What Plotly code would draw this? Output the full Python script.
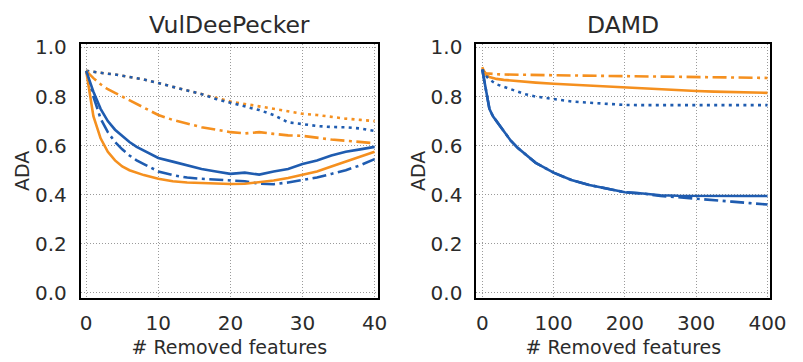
import plotly.graph_objects as go

BLUE = "#1f5cb0"
ORANGE = "#f5901f"

# VulDeePecker: ADA vs number of removed features
x_vdp = [0, 1, 2, 3, 4, 5, 6, 7, 8, 10, 12, 14, 16, 18, 20, 22, 24, 26, 28, 30, 32, 34, 36, 38, 40]
vdp_orange_dot = [0.905, 0.90, 0.897, 0.893, 0.89, 0.885, 0.88, 0.875, 0.87, 0.855, 0.84, 0.825, 0.81,
                  0.795, 0.78, 0.77, 0.76, 0.75, 0.74, 0.73, 0.725, 0.717, 0.71, 0.705, 0.70]
vdp_blue_dot = [0.905, 0.90, 0.897, 0.893, 0.89, 0.885, 0.88, 0.875, 0.87, 0.855, 0.84, 0.825, 0.81,
                0.79, 0.775, 0.76, 0.745, 0.725, 0.695, 0.688, 0.68, 0.676, 0.675, 0.67, 0.66]
vdp_orange_dashdot = [0.905, 0.875, 0.85, 0.83, 0.815, 0.80, 0.785, 0.77, 0.755, 0.725, 0.705, 0.69, 0.675,
                      0.665, 0.655, 0.65, 0.655, 0.648, 0.642, 0.64, 0.632, 0.625, 0.62, 0.615, 0.61]
vdp_blue_solid = [0.905, 0.82, 0.75, 0.70, 0.665, 0.64, 0.615, 0.595, 0.58, 0.55, 0.535, 0.52, 0.505,
                  0.495, 0.485, 0.49, 0.482, 0.495, 0.505, 0.525, 0.54, 0.56, 0.575, 0.585, 0.595]
vdp_orange_solid = [0.905, 0.72, 0.63, 0.575, 0.54, 0.515, 0.50, 0.49, 0.48, 0.465, 0.455, 0.45, 0.447,
                    0.445, 0.444, 0.445, 0.45, 0.458, 0.468, 0.48, 0.495, 0.515, 0.535, 0.555, 0.575]
vdp_blue_dashdot = [0.905, 0.80, 0.71, 0.655, 0.615, 0.585, 0.56, 0.54, 0.525, 0.495, 0.48, 0.47, 0.465,
                    0.462, 0.46, 0.455, 0.445, 0.443, 0.45, 0.46, 0.47, 0.485, 0.50, 0.52, 0.545]

# DAMD: ADA vs number of removed features
x_damd = [0, 2, 5, 10, 15, 20, 30, 40, 50, 60, 75, 100, 125, 150, 175, 200, 225, 250, 275, 300, 325, 350, 375, 400]
damd_orange_dashdot = [0.92, 0.905, 0.895, 0.893, 0.892, 0.891, 0.89, 0.89, 0.889, 0.888, 0.888, 0.887,
                       0.886, 0.885, 0.884, 0.883, 0.882, 0.881, 0.88, 0.88, 0.879, 0.878, 0.877, 0.876]
damd_orange_solid = [0.915, 0.905, 0.89, 0.88, 0.875, 0.872, 0.868, 0.865, 0.862, 0.86, 0.857, 0.852,
                     0.848, 0.844, 0.84, 0.836, 0.832, 0.829, 0.826, 0.823, 0.82, 0.818, 0.816, 0.815]
damd_blue_dot = [0.91, 0.90, 0.885, 0.87, 0.86, 0.85, 0.84, 0.83, 0.82, 0.81, 0.80, 0.79,
                 0.78, 0.775, 0.77, 0.766, 0.765, 0.765, 0.765, 0.765, 0.765, 0.765, 0.765, 0.765]
damd_blue_solid = [0.91, 0.88, 0.82, 0.75, 0.72, 0.70, 0.66, 0.62, 0.59, 0.565, 0.53, 0.49,
                   0.46, 0.44, 0.425, 0.41, 0.405, 0.398, 0.396, 0.395, 0.395, 0.395, 0.395, 0.395]
damd_blue_dashdot = [0.91, 0.88, 0.82, 0.75, 0.72, 0.70, 0.66, 0.62, 0.59, 0.565, 0.53, 0.49,
                     0.46, 0.44, 0.425, 0.41, 0.405, 0.395, 0.39, 0.385, 0.378, 0.372, 0.366, 0.36]

y_ticks = [0.0, 0.2, 0.4, 0.6, 0.8, 1.0]
y_ticktext = ["0.0", "0.2", "0.4", "0.6", "0.8", "1.0"]
x_ticks_vdp = [0, 10, 20, 30, 40]
x_ticks_damd = [0, 100, 200, 300, 400]

FONT = "DejaVu Sans"
TEXT = "#2b2b2b"
W = 2.6
DASHES = {"solid": "solid", "dot": "3px,4.3px", "dashdot": "14px,4.5px,3px,4.5px"}

fig = go.Figure()


def add(x, y, color, dash, axis):
    fig.add_trace(go.Scatter(x=x, y=y, mode="lines", xaxis="x" + axis, yaxis="y" + axis,
                             line=dict(color=color, width=W, dash=DASHES[dash]), showlegend=False,
                             hoverinfo="skip"))


add(x_vdp, vdp_orange_dot, ORANGE, "dot", "")
add(x_vdp, vdp_blue_dot, BLUE, "dot", "")
add(x_vdp, vdp_orange_dashdot, ORANGE, "dashdot", "")
add(x_vdp, vdp_blue_dashdot, BLUE, "dashdot", "")
add(x_vdp, vdp_orange_solid, ORANGE, "solid", "")
add(x_vdp, vdp_blue_solid, BLUE, "solid", "")

add(x_damd, damd_orange_dashdot, ORANGE, "dashdot", "2")
add(x_damd, damd_orange_solid, ORANGE, "solid", "2")
add(x_damd, damd_blue_dot, BLUE, "dot", "2")
add(x_damd, damd_blue_dashdot, BLUE, "dashdot", "2")
add(x_damd, damd_blue_solid, BLUE, "solid", "2")

W_PX, H_PX = 803, 362
dom1 = [81.5 / W_PX, 385 / W_PX]
dom2 = [485.7 / W_PX, 786 / W_PX]
ydom = [(H_PX - 302) / H_PX, (H_PX - 37) / H_PX]

common_axis = dict(showline=True, linecolor="black", linewidth=2, mirror=True,
                   showgrid=True, gridcolor="#9a9a9a", gridwidth=1, griddash="1px,2px",
                   zeroline=False, ticks="", tickfont=dict(family=FONT, size=20, color=TEXT),
                   title_font=dict(family=FONT, size=19, color=TEXT))

fig.update_layout(
    width=W_PX, height=H_PX,
    margin=dict(l=0, r=0, t=0, b=0),
    paper_bgcolor="white", plot_bgcolor="white",
    xaxis=dict(domain=dom1, range=[-0.75, 40.45], tickvals=x_ticks_vdp, anchor="y",
               title=dict(text="# Removed features", standoff=6), ticklabelstandoff=6, **common_axis),
    yaxis=dict(domain=ydom, range=[-0.022, 1.016], tickvals=y_ticks, ticktext=y_ticktext, anchor="x",
               title=dict(text="ADA", standoff=0), ticklabelstandoff=8, **common_axis),
    xaxis2=dict(domain=dom2, range=[-8.2, 404], tickvals=x_ticks_damd, anchor="y2",
                title=dict(text="# Removed features", standoff=6), ticklabelstandoff=6, **common_axis),
    yaxis2=dict(domain=ydom, range=[-0.022, 1.016], tickvals=y_ticks, ticktext=y_ticktext, anchor="x2",
                title=dict(text="ADA", standoff=0), ticklabelstandoff=8, **common_axis),
    annotations=[
        dict(text="VulDeePecker", x=(dom1[0] + dom1[1]) / 2, y=(H_PX - 18) / H_PX, xref="paper",
             yref="paper", showarrow=False, xanchor="center", yanchor="middle",
             font=dict(family=FONT, size=23.5, color=TEXT)),
        dict(text="DAMD", x=(dom2[0] + dom2[1]) / 2, y=(H_PX - 18) / H_PX, xref="paper",
             yref="paper", showarrow=False, xanchor="center", yanchor="middle",
             font=dict(family=FONT, size=23.5, color=TEXT)),
    ],
)

fig.write_html("out.html")
